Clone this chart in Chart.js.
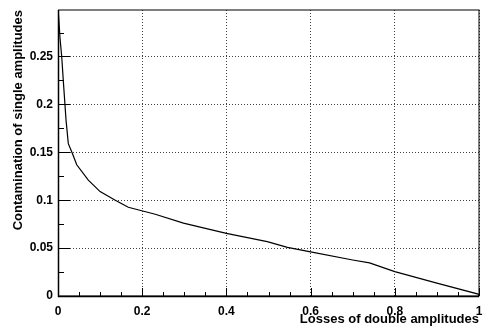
<!DOCTYPE html>
<html><head><meta charset="utf-8">
<script src="https://cdn.jsdelivr.net/npm/chart.js@4"></script>
<style>html,body{margin:0;padding:0;background:#fff}canvas{display:block}</style>
</head><body>
<canvas id="c" width="485" height="331"></canvas>
<script>
// Data
const lossesX = [0, 0.0007, 0.0048, 0.0088, 0.0127, 0.0165, 0.019, 0.0245, 0.034, 0.0445, 0.072, 0.1, 0.136, 0.167, 0.199, 0.231, 0.298, 0.4, 0.497, 0.545, 0.6, 0.7, 0.74, 0.8, 0.9, 0.998, 1.0];
const contaminationY = [0.31, 0.297, 0.269, 0.25, 0.224, 0.2, 0.184, 0.159, 0.149, 0.137, 0.121, 0.109, 0.1, 0.0926, 0.089, 0.0853, 0.076, 0.0654, 0.0567, 0.0508, 0.046, 0.0376, 0.0345, 0.0254, 0.0134, 0.002, 0.0];

const xTickValues = [0, 0.2, 0.4, 0.6, 0.8, 1];
const xTickLabels = ['0', '0.2', '0.4', '0.6', '0.8', '1'];
const yTickValues = [0, 0.05, 0.1, 0.15, 0.2, 0.25];
const yTickLabels = ['0', '0.05', '0.1', '0.15', '0.2', '0.25'];
const xTitle = 'Losses of double amplitudes';
const yTitle = 'Contamination of single amplitudes';

const FONT = '"Liberation Sans", Arial, Helvetica, sans-serif';

const framePlugin = {
  id: 'frame',
  afterDatasetsDraw(chart) {
    const ctx = chart.ctx, a = chart.chartArea;
    const xs = chart.scales.x, ys = chart.scales.y;
    ctx.save();
    ctx.strokeStyle = '#000';
    ctx.lineWidth = 1;
    ctx.setLineDash([]);
    // frame
    ctx.strokeRect(Math.round(a.left) + 0.5, Math.round(a.top), Math.round(a.right - a.left) - 0.5, Math.round(a.bottom - a.top));
    // inner ticks y
    ctx.beginPath();
    for (let k = 0; k <= 12; k++) {
      const v = k * 0.025;
      if (v > ys.max) break;
      const p = Math.round(ys.getPixelForValue(v)) + 0.5;
      const len = (k % 2 === 0) ? 12 : 6;
      ctx.moveTo(a.left, p); ctx.lineTo(a.left + len, p);
    }
    // inner ticks x
    for (let k = 0; k <= 20; k++) {
      const v = k * 0.05;
      const p = Math.round(xs.getPixelForValue(v)) + 0.5;
      const len = (k % 4 === 0) ? 8 : 4;
      ctx.moveTo(p, a.bottom); ctx.lineTo(p, a.bottom - len);
    }
    ctx.stroke();
    // thicker axes
    ctx.lineWidth = 1.5;
    ctx.beginPath();
    ctx.moveTo(a.left + 0.5, a.top); ctx.lineTo(a.left + 0.5, a.bottom + 0.5);
    ctx.lineTo(a.right, a.bottom + 0.5);
    ctx.stroke();
    ctx.restore();
  }
};

new Chart(document.getElementById('c'), {
  type: 'line',
  data: {
    datasets: [{
      data: lossesX.map((x, i) => ({ x: x, y: contaminationY[i] })),
      borderColor: '#000',
      borderWidth: 1.2,
      pointRadius: 0,
      fill: false,
      tension: 0
    }]
  },
  options: {
    responsive: false,
    animation: false,
    devicePixelRatio: 1,
    layout: { padding: { top: 10, right: 6, left: 0, bottom: 0 } },
    plugins: { legend: { display: false }, tooltip: { enabled: false } },
    scales: {
      x: {
        type: 'linear', min: 0, max: 1,
        afterBuildTicks: s => { s.ticks = xTickValues.map(v => ({ value: v })); },
        afterFit: s => { s.height = 35; s.paddingLeft = 0; s.paddingRight = 0; },
        ticks: {
          callback: (v, i) => xTickLabels[i],
          font: { family: FONT, size: 12, weight: 'bold' },
          color: '#000', padding: 8, maxRotation: 0
        },
        grid: { color: 'rgba(0,0,0,0.75)', lineWidth: 1, drawTicks: false },
        border: { display: false, dash: [1, 2] },
        title: {
          display: true, text: xTitle, align: 'end', color: '#000',
          font: { family: FONT, size: 13, weight: 'bold' },
          padding: { top: 0, bottom: 4 }
        }
      },
      y: {
        type: 'linear', min: 0, max: 0.2985,
        afterBuildTicks: s => { s.ticks = yTickValues.map(v => ({ value: v })); },
        afterFit: s => { s.width = 58; s.paddingTop = 0; s.paddingBottom = 0; },
        ticks: {
          callback: (v, i) => yTickLabels[i],
          font: { family: FONT, size: 12, weight: 'bold' },
          color: '#000', padding: 5
        },
        grid: { color: 'rgba(0,0,0,0.75)', lineWidth: 1, drawTicks: false },
        border: { display: false, dash: [1, 2] },
        title: {
          display: true, text: yTitle, align: 'end', color: '#000',
          font: { family: FONT, size: 13, weight: 'bold' },
          padding: { top: 11, bottom: 0 }
        }
      }
    }
  },
  plugins: [framePlugin]
});
</script>
</body></html>
